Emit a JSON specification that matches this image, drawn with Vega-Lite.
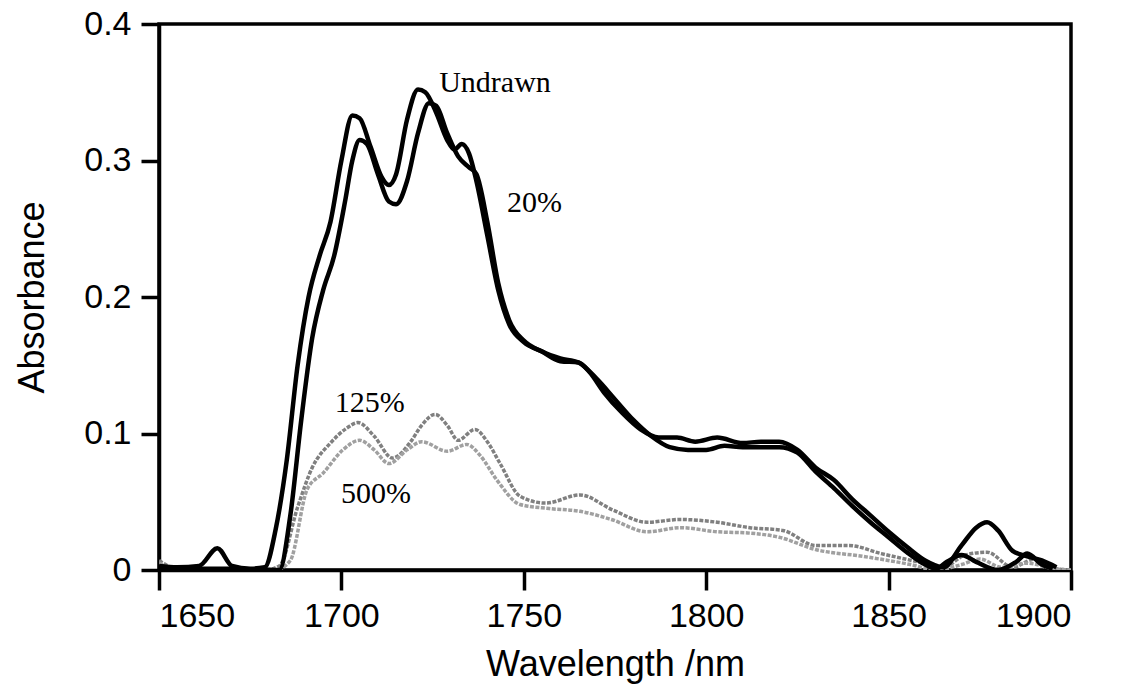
{
  "$schema": "https://vega.github.io/schema/vega-lite/v6.json",
  "width": 912,
  "height": 546,
  "autosize": {"type": "none"},
  "padding": {"left": 159, "top": 24, "right": 50, "bottom": 116},
  "background": "white",
  "config": {
    "view": {"stroke": "black", "strokeWidth": 3.5},
    "axis": {"grid": false, "domainColor": "black", "domainWidth": 3.5, "tickColor": "black", "tickWidth": 3.5,
      "labelFont": "Liberation Sans", "titleFont": "Liberation Sans", "labelColor": "black", "titleColor": "black",
      "labelFontSize": 34, "titleFontSize": 36, "titleFontWeight": "normal"}
  },
  "datasets": {
    "gray": [
      {"s":"125%","x":1650,"y":0.007},{"s":"125%","x":1656,"y":0.0},{"s":"125%","x":1679,"y":0.0},{"s":"125%","x":1683,"y":0.003},{"s":"125%","x":1688,"y":0.046},{"s":"125%","x":1692,"y":0.075},{"s":"125%","x":1697,"y":0.093},{"s":"125%","x":1701.5,"y":0.104},{"s":"125%","x":1704.5,"y":0.108},{"s":"125%","x":1709,"y":0.098},{"s":"125%","x":1714,"y":0.082},{"s":"125%","x":1719,"y":0.094},{"s":"125%","x":1722,"y":0.106},{"s":"125%","x":1725.7,"y":0.114},{"s":"125%","x":1729,"y":0.106},{"s":"125%","x":1732,"y":0.095},{"s":"125%","x":1736.6,"y":0.103},{"s":"125%","x":1740,"y":0.094},{"s":"125%","x":1743.5,"y":0.078},{"s":"125%","x":1749,"y":0.054},{"s":"125%","x":1756,"y":0.049},{"s":"125%","x":1765.4,"y":0.055},{"s":"125%","x":1774.4,"y":0.044},{"s":"125%","x":1783.8,"y":0.035},{"s":"125%","x":1792.8,"y":0.037},{"s":"125%","x":1803,"y":0.035},{"s":"125%","x":1812,"y":0.031},{"s":"125%","x":1821,"y":0.029},{"s":"125%","x":1830,"y":0.018},{"s":"125%","x":1839,"y":0.018},{"s":"125%","x":1848,"y":0.012},{"s":"125%","x":1858,"y":0.006},{"s":"125%","x":1865,"y":0.002},{"s":"125%","x":1871,"y":0.011},{"s":"125%","x":1877,"y":0.013},{"s":"125%","x":1884,"y":0.002},{"s":"125%","x":1890,"y":0.008},{"s":"125%","x":1896,"y":0.001},{"s":"125%","x":1900,"y":0.0},
      {"s":"500%","x":1650,"y":0.005},{"s":"500%","x":1656,"y":0.0},{"s":"500%","x":1682,"y":0.0},{"s":"500%","x":1686,"y":0.007},{"s":"500%","x":1690.6,"y":0.059},{"s":"500%","x":1695,"y":0.071},{"s":"500%","x":1700.4,"y":0.088},{"s":"500%","x":1705,"y":0.095},{"s":"500%","x":1709,"y":0.088},{"s":"500%","x":1713,"y":0.078},{"s":"500%","x":1718,"y":0.088},{"s":"500%","x":1722,"y":0.094},{"s":"500%","x":1729,"y":0.087},{"s":"500%","x":1734.4,"y":0.092},{"s":"500%","x":1738,"y":0.084},{"s":"500%","x":1742.6,"y":0.066},{"s":"500%","x":1749,"y":0.048},{"s":"500%","x":1757,"y":0.045},{"s":"500%","x":1765.4,"y":0.043},{"s":"500%","x":1774,"y":0.037},{"s":"500%","x":1783.8,"y":0.028},{"s":"500%","x":1793,"y":0.031},{"s":"500%","x":1803,"y":0.028},{"s":"500%","x":1812,"y":0.027},{"s":"500%","x":1820,"y":0.024},{"s":"500%","x":1830,"y":0.015},{"s":"500%","x":1843,"y":0.01},{"s":"500%","x":1856,"y":0.004},{"s":"500%","x":1863,"y":0.0},{"s":"500%","x":1870,"y":0.004},{"s":"500%","x":1875,"y":0.008},{"s":"500%","x":1881,"y":0.002},{"s":"500%","x":1888,"y":0.005},{"s":"500%","x":1895,"y":0.001},{"s":"500%","x":1900,"y":0.0}
    ],
    "black": [
      {"s":"Undrawn","x":1650,"y":0.003},{"s":"Undrawn","x":1655,"y":0.002},{"s":"Undrawn","x":1661,"y":0.003},{"s":"Undrawn","x":1666,"y":0.016},{"s":"Undrawn","x":1670,"y":0.003},{"s":"Undrawn","x":1675,"y":0.001},{"s":"Undrawn","x":1679,"y":0.002},{"s":"Undrawn","x":1682,"y":0.03},{"s":"Undrawn","x":1685,"y":0.08},{"s":"Undrawn","x":1688,"y":0.15},{"s":"Undrawn","x":1691,"y":0.2},{"s":"Undrawn","x":1694,"y":0.23},{"s":"Undrawn","x":1697,"y":0.255},{"s":"Undrawn","x":1700,"y":0.3},{"s":"Undrawn","x":1703,"y":0.333},{"s":"Undrawn","x":1705,"y":0.331},{"s":"Undrawn","x":1708,"y":0.31},{"s":"Undrawn","x":1711,"y":0.288},{"s":"Undrawn","x":1713,"y":0.282},{"s":"Undrawn","x":1715,"y":0.29},{"s":"Undrawn","x":1718,"y":0.33},{"s":"Undrawn","x":1721,"y":0.352},{"s":"Undrawn","x":1723,"y":0.35},{"s":"Undrawn","x":1726,"y":0.335},{"s":"Undrawn","x":1729,"y":0.315},{"s":"Undrawn","x":1731,"y":0.308},{"s":"Undrawn","x":1733,"y":0.312},{"s":"Undrawn","x":1735,"y":0.305},{"s":"Undrawn","x":1737,"y":0.285},{"s":"Undrawn","x":1740,"y":0.245},{"s":"Undrawn","x":1743,"y":0.205},{"s":"Undrawn","x":1746,"y":0.18},{"s":"Undrawn","x":1750,"y":0.167},{"s":"Undrawn","x":1755,"y":0.16},{"s":"Undrawn","x":1760,"y":0.153},{"s":"Undrawn","x":1765,"y":0.152},{"s":"Undrawn","x":1768,"y":0.145},{"s":"Undrawn","x":1772,"y":0.13},{"s":"Undrawn","x":1777,"y":0.115},{"s":"Undrawn","x":1782,"y":0.103},{"s":"Undrawn","x":1787,"y":0.097},{"s":"Undrawn","x":1792,"y":0.097},{"s":"Undrawn","x":1797,"y":0.094},{"s":"Undrawn","x":1803,"y":0.097},{"s":"Undrawn","x":1810,"y":0.093},{"s":"Undrawn","x":1815,"y":0.094},{"s":"Undrawn","x":1820,"y":0.094},{"s":"Undrawn","x":1825,"y":0.088},{"s":"Undrawn","x":1830,"y":0.075},{"s":"Undrawn","x":1835,"y":0.066},{"s":"Undrawn","x":1840,"y":0.052},{"s":"Undrawn","x":1845,"y":0.04},{"s":"Undrawn","x":1850,"y":0.028},{"s":"Undrawn","x":1855,"y":0.017},{"s":"Undrawn","x":1860,"y":0.007},{"s":"Undrawn","x":1865,"y":0.002},{"s":"Undrawn","x":1870,"y":0.018},{"s":"Undrawn","x":1874,"y":0.031},{"s":"Undrawn","x":1877,"y":0.035},{"s":"Undrawn","x":1880,"y":0.029},{"s":"Undrawn","x":1884,"y":0.014},{"s":"Undrawn","x":1888,"y":0.01},{"s":"Undrawn","x":1892,"y":0.007},{"s":"Undrawn","x":1896,"y":0.002},
      {"s":"20%","x":1650,"y":0.001},{"s":"20%","x":1660,"y":0.001},{"s":"20%","x":1670,"y":0.001},{"s":"20%","x":1683,"y":0.0},{"s":"20%","x":1686,"y":0.04},{"s":"20%","x":1689,"y":0.11},{"s":"20%","x":1692,"y":0.17},{"s":"20%","x":1695,"y":0.205},{"s":"20%","x":1698,"y":0.23},{"s":"20%","x":1701,"y":0.27},{"s":"20%","x":1703,"y":0.3},{"s":"20%","x":1705,"y":0.315},{"s":"20%","x":1707,"y":0.312},{"s":"20%","x":1710,"y":0.29},{"s":"20%","x":1713,"y":0.27},{"s":"20%","x":1715,"y":0.268},{"s":"20%","x":1718,"y":0.285},{"s":"20%","x":1721,"y":0.32},{"s":"20%","x":1724,"y":0.342},{"s":"20%","x":1726,"y":0.34},{"s":"20%","x":1729,"y":0.32},{"s":"20%","x":1732,"y":0.303},{"s":"20%","x":1735,"y":0.295},{"s":"20%","x":1737,"y":0.29},{"s":"20%","x":1740,"y":0.255},{"s":"20%","x":1743,"y":0.21},{"s":"20%","x":1746,"y":0.183},{"s":"20%","x":1750,"y":0.168},{"s":"20%","x":1755,"y":0.16},{"s":"20%","x":1760,"y":0.155},{"s":"20%","x":1765,"y":0.152},{"s":"20%","x":1770,"y":0.14},{"s":"20%","x":1775,"y":0.125},{"s":"20%","x":1780,"y":0.11},{"s":"20%","x":1785,"y":0.098},{"s":"20%","x":1790,"y":0.09},{"s":"20%","x":1795,"y":0.088},{"s":"20%","x":1800,"y":0.088},{"s":"20%","x":1805,"y":0.091},{"s":"20%","x":1810,"y":0.09},{"s":"20%","x":1815,"y":0.09},{"s":"20%","x":1820,"y":0.09},{"s":"20%","x":1825,"y":0.086},{"s":"20%","x":1830,"y":0.072},{"s":"20%","x":1835,"y":0.06},{"s":"20%","x":1840,"y":0.047},{"s":"20%","x":1845,"y":0.035},{"s":"20%","x":1850,"y":0.024},{"s":"20%","x":1855,"y":0.013},{"s":"20%","x":1860,"y":0.004},{"s":"20%","x":1863,"y":0.001},{"s":"20%","x":1866,"y":0.006},{"s":"20%","x":1870,"y":0.011},{"s":"20%","x":1874,"y":0.006},{"s":"20%","x":1880,"y":0.0},{"s":"20%","x":1885,"y":0.006},{"s":"20%","x":1888,"y":0.012},{"s":"20%","x":1892,"y":0.004},{"s":"20%","x":1895,"y":0.001}
    ],
    "labels": [
      {"t":"Undrawn","x":1742.1,"y":0.357},
      {"t":"20%","x":1752.9,"y":0.269},
      {"t":"125%","x":1707.8,"y":0.122},
      {"t":"500%","x":1709.5,"y":0.056}
    ]
  },
  "layer": [
    {
      "data": {"name": "gray"},
      "mark": {"type": "line", "interpolate": "monotone", "clip": true, "strokeWidth": 3.5, "strokeDash": [4, 1.5]},
      "encoding": {
        "x": {"field": "x", "type": "quantitative", "scale": {"domain": [1650, 1900], "nice": false, "zero": false},
          "axis": {"values": [1650, 1700, 1750, 1800, 1850, 1900], "title": "Wavelength /nm", "tickSize": 20, "labelPadding": 9, "titlePadding": 14, "format": "d"}},
        "y": {"field": "y", "type": "quantitative", "scale": {"domain": [0, 0.4], "nice": false},
          "axis": {"values": [0, 0.1, 0.2, 0.3, 0.4], "title": "Absorbance", "tickSize": 18, "labelPadding": 10, "titlePadding": 32, "labelExpr": "datum.value == 0 ? '0' : format(datum.value, '.1f')"}},
        "color": {"field": "s", "type": "nominal", "legend": null,
          "scale": {"domain": ["125%", "500%", "Undrawn", "20%"], "range": ["#808080", "#a0a0a0", "#000000", "#000000"]}},
        "order": {"field": "x", "type": "quantitative"}
      }
    },
    {
      "data": {"name": "black"},
      "mark": {"type": "line", "interpolate": "monotone", "clip": true, "strokeWidth": 4.5},
      "encoding": {
        "x": {"field": "x", "type": "quantitative"},
        "y": {"field": "y", "type": "quantitative"},
        "color": {"field": "s", "type": "nominal", "legend": null},
        "order": {"field": "x", "type": "quantitative"}
      }
    },
    {
      "data": {"name": "labels"},
      "mark": {"type": "text", "font": "Liberation Serif", "fontSize": 30, "color": "black", "align": "center", "baseline": "middle"},
      "encoding": {
        "x": {"field": "x", "type": "quantitative"},
        "y": {"field": "y", "type": "quantitative"},
        "text": {"field": "t", "type": "nominal"}
      }
    }
  ]
}
